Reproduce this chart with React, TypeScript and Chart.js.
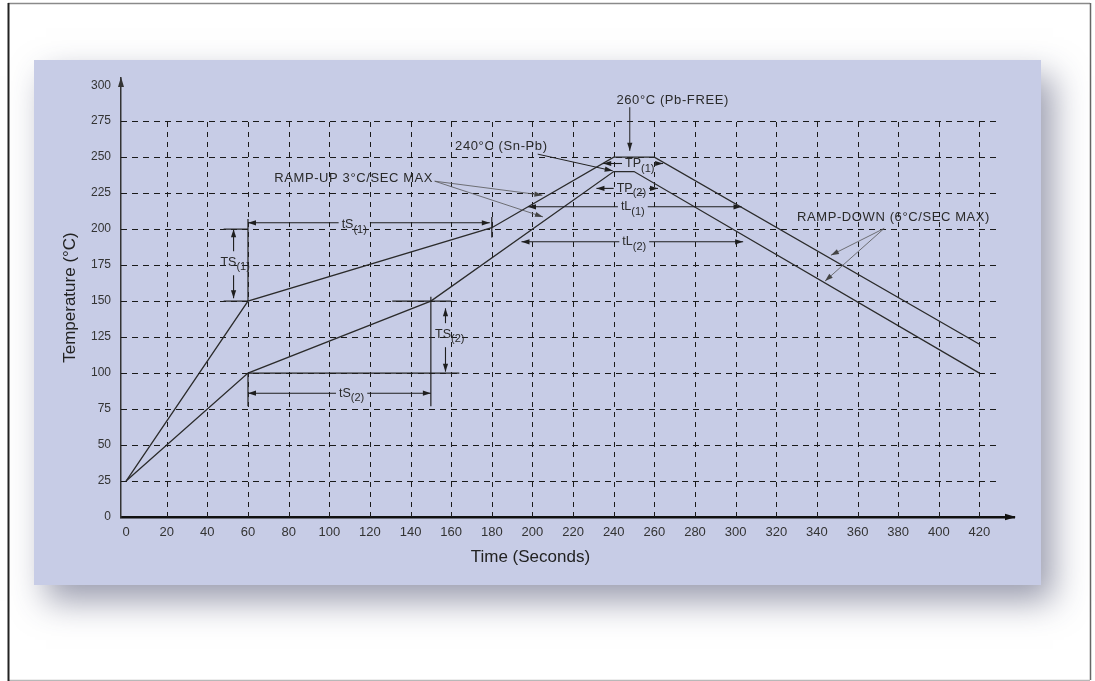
import React, { useEffect, useRef } from 'react';
import { Chart, registerables } from 'chart.js';

Chart.register(...registerables);

// ---------- data ----------
const TIME_TICKS = [0, 20, 40, 60, 80, 100, 120, 140, 160, 180, 200, 220, 240, 260, 280, 300, 320, 340, 360, 380, 400, 420];
const TEMP_TICKS = [0, 25, 50, 75, 100, 125, 150, 175, 200, 225, 250, 275, 300];
const GRID_TIME = [20, 40, 60, 80, 100, 120, 140, 160, 180, 200, 220, 240, 260, 280, 300, 320, 340, 360, 380, 400, 420];
const GRID_TEMP = [25, 50, 75, 100, 125, 150, 175, 200, 225, 250, 275];

// Pb-free profile (upper curve)
const PB_FREE_TIME = [0, 60, 180, 240, 260, 420];
const PB_FREE_TEMP = [25, 150, 201, 250, 250, 120];
// Sn-Pb profile (lower curve)
const SNPB_TIME = [0, 60, 150, 240, 250, 420];
const SNPB_TEMP = [25, 100, 150, 240, 240, 100];

// ---------- annotations (data units) ----------
const CALLOUT_TEXTS = [
  { text: '260°C (Pb-FREE)', x: 269, y: 289.6 },
  { text: '240°C (Sn-Pb)', x: 184.7, y: 257.8 },
  { text: 'RAMP-UP 3°C/SEC MAX', x: 112, y: 235.2 },
  { text: 'RAMP-DOWN (6°C/SEC MAX)', x: 377.7, y: 208.1 },
];
const POINTERS_DARK = [
  [247.9, 284.7, 247.9, 254.4],
  [202.6, 252.1, 239.5, 240.5],
];
const POINTERS_GRAY = [
  [151.9, 233.3, 204.9, 223.6],
  [151.9, 233.3, 205.2, 208.5],
  [373.1, 200.5, 346.9, 181.9],
  [373.1, 200.5, 344.0, 163.9],
];
const GUIDE_LINES = [
  [60, 150, 60, 207],
  [180, 208.5, 180, 194.2],
  [48, 200, 60, 200],
  [48, 150, 60, 150],
  [60, 100, 60, 77],
  [60, 100, 164, 100],
  [131, 150, 160, 150],
  [150, 153, 150, 77],
];
const DIMENSIONS = [
  { label: 'tS', sub: '(1)', x1: 60, y1: 204.4, x2: 179, y2: 204.4, lx: 112.3, ly: 203 },
  { label: 'tS', sub: '(2)', x1: 60, y1: 86, x2: 150, y2: 86, lx: 111, ly: 86 },
  { label: 'TS', sub: '(1)', x1: 52.9, y1: 200, x2: 52.9, y2: 152, lx: 53.7, ly: 177 },
  { label: 'TS', sub: '(2)', x1: 157.2, y1: 145, x2: 157.2, y2: 101, lx: 159.3, ly: 127 },
  { label: 'TP', sub: '(1)', x1: 234.8, y1: 245.6, x2: 264.3, y2: 245.6, lx: 252.8, ly: 245.6 },
  { label: 'TP', sub: '(2)', x1: 231.5, y1: 228.3, x2: 261.8, y2: 228.3, lx: 248.7, ly: 228.3 },
  { label: 'tL', sub: '(1)', x1: 197.8, y1: 215.5, x2: 302.9, y2: 215.5, lx: 249.4, ly: 215.5 },
  { label: 'tL', sub: '(2)', x1: 194.6, y1: 191.2, x2: 303.7, y2: 191.2, lx: 250.1, ly: 191.2 },
];

const FONT = '"Liberation Sans", Arial, sans-serif';
const W = 1095;
const H = 681;

function arrowHead(ctx: CanvasRenderingContext2D, x1: number, y1: number, x2: number, y2: number, len = 8, half = 2.6) {
  const a = Math.atan2(y2 - y1, x2 - x1);
  const c = Math.cos(a), s = Math.sin(a);
  ctx.beginPath();
  ctx.moveTo(x2, y2);
  ctx.lineTo(x2 - len * c + half * s, y2 - len * s - half * c);
  ctx.lineTo(x2 - len * c - half * s, y2 - len * s + half * c);
  ctx.closePath();
  ctx.fill();
}

function seg(ctx: CanvasRenderingContext2D, x1: number, y1: number, x2: number, y2: number) {
  ctx.beginPath();
  ctx.moveTo(x1, y1);
  ctx.lineTo(x2, y2);
  ctx.stroke();
}

const backgroundPlugin = {
  id: 'panelBackground',
  beforeDraw(chart: any) {
    const ctx: CanvasRenderingContext2D = chart.ctx;
    ctx.save();
    ctx.fillStyle = '#ffffff';
    ctx.fillRect(0, 0, W, H);
    // frame
    ctx.lineWidth = 1.5;
    ctx.strokeStyle = '#8a8a8a';
    seg(ctx, 8, 3.5, 1090, 3.5);
    ctx.strokeStyle = '#666';
    seg(ctx, 1090.5, 3, 1090.5, 680);
    ctx.strokeStyle = '#b8b8b8';
    seg(ctx, 8, 680.5, 1090, 680.5);
    ctx.strokeStyle = '#222';
    ctx.lineWidth = 2;
    seg(ctx, 8.5, 3, 8.5, 681);
    // panel with soft shadow
    ctx.shadowColor = 'rgba(55,60,95,0.5)';
    ctx.shadowBlur = 32;
    ctx.shadowOffsetX = 12;
    ctx.shadowOffsetY = 16;
    ctx.fillStyle = '#c7cce6';
    ctx.fillRect(34, 60, 1007, 525);
    ctx.restore();
  },
};

const overlayPlugin = {
  id: 'profileOverlay',
  beforeDatasetsDraw(chart: any) {
    const ctx: CanvasRenderingContext2D = chart.ctx;
    const xs = chart.scales.x, ys = chart.scales.y;
    const axisX = chart.chartArea.left;
    ctx.save();
    ctx.strokeStyle = '#1a1a1a';
    ctx.lineWidth = 1;
    ctx.setLineDash([5, 5]);
    for (const t of GRID_TIME) {
      const px = Math.round(xs.getPixelForValue(t)) + 0.5;
      seg(ctx, px, ys.getPixelForValue(0), px, ys.getPixelForValue(275));
    }
    ctx.setLineDash([6, 5]);
    for (const v of GRID_TEMP) {
      const py = Math.round(ys.getPixelForValue(v)) + 0.5;
      seg(ctx, axisX, py, xs.getPixelForValue(430), py);
    }
    ctx.restore();
  },
  afterDatasetsDraw(chart: any) {
    const ctx: CanvasRenderingContext2D = chart.ctx;
    const xs = chart.scales.x, ys = chart.scales.y;
    const X = (v: number) => xs.getPixelForValue(v);
    const Y = (v: number) => ys.getPixelForValue(v);
    const area = chart.chartArea;
    ctx.save();

    // axis arrowheads
    ctx.fillStyle = '#111';
    arrowHead(ctx, area.right - 10, area.bottom, area.right + 2, area.bottom, 11, 3.2);
    ctx.fillStyle = '#333';
    arrowHead(ctx, area.left, area.top + 10, area.left, area.top - 1, 10, 3);

    // guide lines
    ctx.strokeStyle = '#222';
    ctx.lineWidth = 1.2;
    for (const [a, b, c, d] of GUIDE_LINES) seg(ctx, X(a), Y(b), X(c), Y(d));

    // pointers
    ctx.strokeStyle = '#222';
    ctx.fillStyle = '#222';
    ctx.lineWidth = 1;
    for (const [a, b, c, d] of POINTERS_DARK) {
      seg(ctx, X(a), Y(b), X(c), Y(d));
      arrowHead(ctx, X(a), Y(b), X(c), Y(d), 8, 2.6);
    }
    ctx.strokeStyle = '#555';
    ctx.fillStyle = '#444';
    ctx.lineWidth = 0.8;
    for (const [a, b, c, d] of POINTERS_GRAY) {
      seg(ctx, X(a), Y(b), X(c), Y(d));
      arrowHead(ctx, X(a), Y(b), X(c), Y(d), 8, 2.6);
    }

    // callout texts
    ctx.fillStyle = '#2a2a2a';
    ctx.textBaseline = 'middle';
    ctx.textAlign = 'center';
    ctx.font = `13px ${FONT}`;
    (ctx as any).letterSpacing = '0.6px';
    for (const t of CALLOUT_TEXTS) ctx.fillText(t.text, X(t.x), Y(t.y));
    (ctx as any).letterSpacing = '0px';

    // dimension arrows
    const MAIN = `12.5px ${FONT}`;
    const SUB = `11px ${FONT}`;
    ctx.textAlign = 'left';
    ctx.strokeStyle = '#1e1e1e';
    ctx.fillStyle = '#1e1e1e';
    ctx.lineWidth = 1.1;
    for (const d of DIMENSIONS) {
      const x1 = X(d.x1), y1 = Y(d.y1), x2 = X(d.x2), y2 = Y(d.y2);
      const lx = X(d.lx), ly = Y(d.ly);
      ctx.font = MAIN;
      const w1 = ctx.measureText(d.label).width;
      ctx.font = SUB;
      const w2 = ctx.measureText(d.sub).width;
      const tw = w1 + w2;
      const left = lx - tw / 2;
      const horiz = Math.abs(x2 - x1) > Math.abs(y2 - y1);
      if (horiz) {
        const lo = Math.min(x1, x2), hi = Math.max(x1, x2);
        const g1 = left - 3, g2 = left + tw + 3;
        seg(ctx, lo, y1, g1, y1);
        arrowHead(ctx, g1, y1, lo, y1);
        seg(ctx, g2, y1, hi, y1);
        arrowHead(ctx, g2, y1, hi, y1);
      } else {
        const top = Math.min(y1, y2), bot = Math.max(y1, y2);
        const g1 = ly - 11, g2 = ly + 13;
        seg(ctx, x1, top, x1, g1);
        arrowHead(ctx, x1, g1, x1, top);
        seg(ctx, x1, g2, x1, bot);
        arrowHead(ctx, x1, g2, x1, bot);
      }
      ctx.fillStyle = '#2a2a2a';
      ctx.font = MAIN;
      ctx.fillText(d.label, left, ly);
      ctx.font = SUB;
      ctx.fillText(d.sub, left + w1, ly + 5);
      ctx.fillStyle = '#1e1e1e';
    }

    // x-axis title
    ctx.fillStyle = '#222';
    ctx.font = `17px ${FONT}`;
    ctx.textAlign = 'center';
    ctx.textBaseline = 'middle';
    ctx.fillText('Time (Seconds)', X(199), area.bottom + 40);
    ctx.restore();
  },
};

export default function App() {
  const ref = useRef<HTMLCanvasElement | null>(null);
  useEffect(() => {
    const canvas = ref.current;
    if (!canvas) return;
    Chart.defaults.font.family = FONT;
    const chart = new Chart(canvas, {
      type: 'line',
      data: {
        datasets: [
          {
            label: 'Pb-free',
            data: PB_FREE_TIME.map((t, i) => ({ x: t, y: PB_FREE_TEMP[i] })),
            borderColor: '#2b2b2b',
            borderWidth: 1.3,
            pointRadius: 0,
            fill: false,
            tension: 0,
          },
          {
            label: 'Sn-Pb',
            data: SNPB_TIME.map((t, i) => ({ x: t, y: SNPB_TEMP[i] })),
            borderColor: '#2b2b2b',
            borderWidth: 1.3,
            pointRadius: 0,
            fill: false,
            tension: 0,
          },
        ],
      },
      options: {
        responsive: false,
        animation: false,
        devicePixelRatio: 1,
        events: [],
        layout: { padding: { left: 60, right: 81, top: 78, bottom: 115 } },
        plugins: { legend: { display: false }, tooltip: { enabled: false } },
        scales: {
          x: {
            type: 'linear',
            min: -2.5,
            max: 437,
            afterBuildTicks: (s: any) => {
              s.ticks = TIME_TICKS.map((v) => ({ value: v }));
            },
            afterFit: (s: any) => {
              s.height = 49;
            },
            grid: { display: false },
            border: { display: true, color: '#111', width: 2.5 },
            ticks: { color: '#333', font: { size: 13 }, padding: 0, autoSkip: false, maxRotation: 0 },
          },
          y: {
            type: 'linear',
            min: 0,
            max: 305,
            afterBuildTicks: (s: any) => {
              s.ticks = TEMP_TICKS.map((v) => ({ value: v }));
            },
            afterFit: (s: any) => {
              s.width = 61;
            },
            grid: { display: false },
            border: { display: true, color: '#333', width: 1.5 },
            ticks: { color: '#333', font: { size: 12 }, padding: 2 },
            title: { display: true, text: 'Temperature (°C)', color: '#222', font: { size: 17 }, padding: 0 },
          },
        },
      } as any,
      plugins: [backgroundPlugin, overlayPlugin],
    });
    return () => chart.destroy();
  }, []);
  return (
    <div style={{ position: 'absolute', left: 0, top: 0, width: W, height: H }}>
      <canvas ref={ref} width={W} height={H} style={{ display: 'block', width: W, height: H }} />
    </div>
  );
}
